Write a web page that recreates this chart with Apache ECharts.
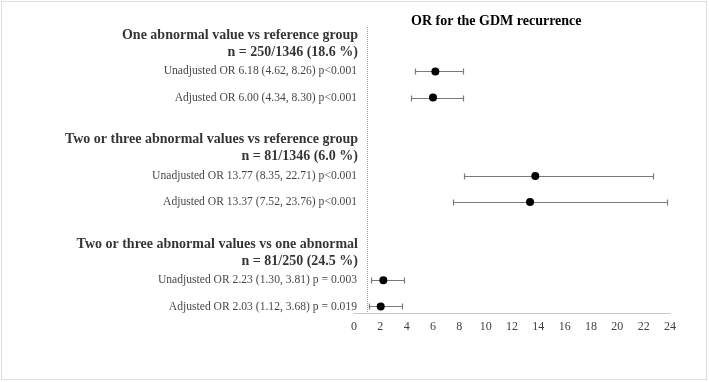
<!DOCTYPE html>
<html>
<head>
<meta charset="utf-8">
<script src="https://cdn.jsdelivr.net/npm/echarts@6/dist/echarts.min.js"></script>
<style>
  html, body { margin: 0; padding: 0; background: #fff; }
  #wrap { position: relative; width: 709px; height: 382px; }
  #chart { position: absolute; left: 0; top: 0; width: 709px; height: 382px; }
  #frame { position: absolute; left: 1px; top: 1px; width: 704px; height: 377px; border: 1px solid #dedede; pointer-events: none; }
</style>
</head>
<body>
<div id="wrap"><div id="chart"></div><div id="frame"></div></div>
<script>
// ---- data ----
const chartTitle = 'OR for the GDM recurrence';
const groupTitles = [
  'One abnormal value vs reference group',
  'Two or three abnormal values vs reference group',
  'Two or three abnormal values vs one abnormal'
];
const groupN = [
  'n = 250/1346 (18.6 %)',
  'n = 81/1346 (6.0 %)',
  'n = 81/250 (24.5 %)'
];
const rowLabels = [
  'Unadjusted OR 6.18 (4.62, 8.26) p<0.001',
  'Adjusted OR 6.00 (4.34, 8.30) p<0.001',
  'Unadjusted OR 13.77 (8.35, 22.71) p<0.001',
  'Adjusted OR 13.37 (7.52, 23.76) p<0.001',
  'Unadjusted OR 2.23 (1.30, 3.81) p = 0.003',
  'Adjusted OR 2.03 (1.12, 3.68) p = 0.019'
];
const orValues = [6.18, 6.00, 13.77, 13.37, 2.23, 2.03];
const ciLow   = [4.62, 4.34, 8.35, 7.52, 1.30, 1.12];
const ciHigh  = [8.26, 8.30, 22.71, 23.76, 3.81, 3.68];
const xTicks = [0, 2, 4, 6, 8, 10, 12, 14, 16, 18, 20, 22, 24];
const refValue = 1;

// ---- structure: each group = header row + 2 estimate rows + spacer ----
const rowsPerGroup = 4;
const headerRow = groupTitles.map((_, g) => g * rowsPerGroup);
const estRow = rowLabels.map((_, i) => Math.floor(i / 2) * rowsPerGroup + 1 + (i % 2));

const serif = '"Liberation Serif", "Times New Roman", serif';

const chart = echarts.init(document.getElementById('chart'), null, { renderer: 'canvas' });

const option = {
  backgroundColor: '#ffffff',
  animation: false,
  title: {
    text: chartTitle,
    left: 406, top: 9,
    textStyle: { fontFamily: serif, fontSize: 14, fontWeight: 'bold', color: '#000' }
  },
  grid: { left: 354, right: 39, top: 27, bottom: 69 },
  xAxis: {
    type: 'value', position: 'bottom',
    min: xTicks[0], max: xTicks[xTicks.length - 1], interval: 2,
    axisLine: { show: true, onZero: false, lineStyle: { color: '#c8c8c8', width: 1 } },
    axisTick: { show: false },
    splitLine: { show: false },
    axisLabel: { fontFamily: serif, fontSize: 12, color: '#404040', margin: 8 }
  },
  yAxis: {
    type: 'value', inverse: true, min: -0.7, max: 10.25,
    show: false, splitLine: { show: false }
  },
  series: [
    {
      type: 'custom',
      name: 'ci',
      clip: false,
      renderItem: function (params, api) {
        const lo = api.coord([api.value(0), api.value(2)]);
        const hi = api.coord([api.value(1), api.value(2)]);
        const y = Math.round(lo[1]) + 0.5;
        const cap = 3;
        const st = { stroke: '#7a7a7a', lineWidth: 1.2 };
        return {
          type: 'group',
          children: [
            { type: 'line', shape: { x1: lo[0], y1: y, x2: hi[0], y2: y }, style: st },
            { type: 'line', shape: { x1: Math.round(lo[0]) + 0.5, y1: y - cap, x2: Math.round(lo[0]) + 0.5, y2: y + cap }, style: st },
            { type: 'line', shape: { x1: Math.round(hi[0]) + 0.5, y1: y - cap, x2: Math.round(hi[0]) + 0.5, y2: y + cap }, style: st }
          ]
        };
      },
      data: orValues.map((_, i) => [ciLow[i], ciHigh[i], estRow[i]]),
      markLine: {
        silent: true, symbol: 'none',
        label: { show: false },
        lineStyle: { type: 'dotted', color: '#a0a0a0', width: 1 },
        data: [{ xAxis: refValue }]
      },
      z: 2
    },
    {
      type: 'scatter',
      name: 'or',
      symbol: 'circle',
      symbolSize: 8,
      itemStyle: { color: '#000', opacity: 1 },
      data: orValues.map((v, i) => [v, estRow[i]]),
      z: 3
    },
    {
      type: 'scatter',
      name: 'rowLabels',
      symbolSize: 0,
      silent: true,
      data: rowLabels.map((t, i) => ({ value: [0, estRow[i]], name: t })),
      label: {
        show: true, position: 'left', distance: 0, offset: [3, 0],
        formatter: p => p.name,
        fontFamily: serif, fontSize: 11.6, color: '#111'
      }
    },
    {
      type: 'scatter',
      name: 'headers',
      symbolSize: 0,
      silent: true,
      data: groupTitles.map((t, g) => ({ value: [0, headerRow[g]], name: t + '\n' + groupN[g] })),
      label: {
        show: true, position: 'left', distance: 0, offset: [4, -1.5],
        align: 'right',
        formatter: p => p.name,
        fontFamily: serif, fontSize: 14, fontWeight: 'bold', color: '#000',
        lineHeight: 17
      }
    }
  ]
};
chart.setOption(option);
</script>
</body>
</html>
